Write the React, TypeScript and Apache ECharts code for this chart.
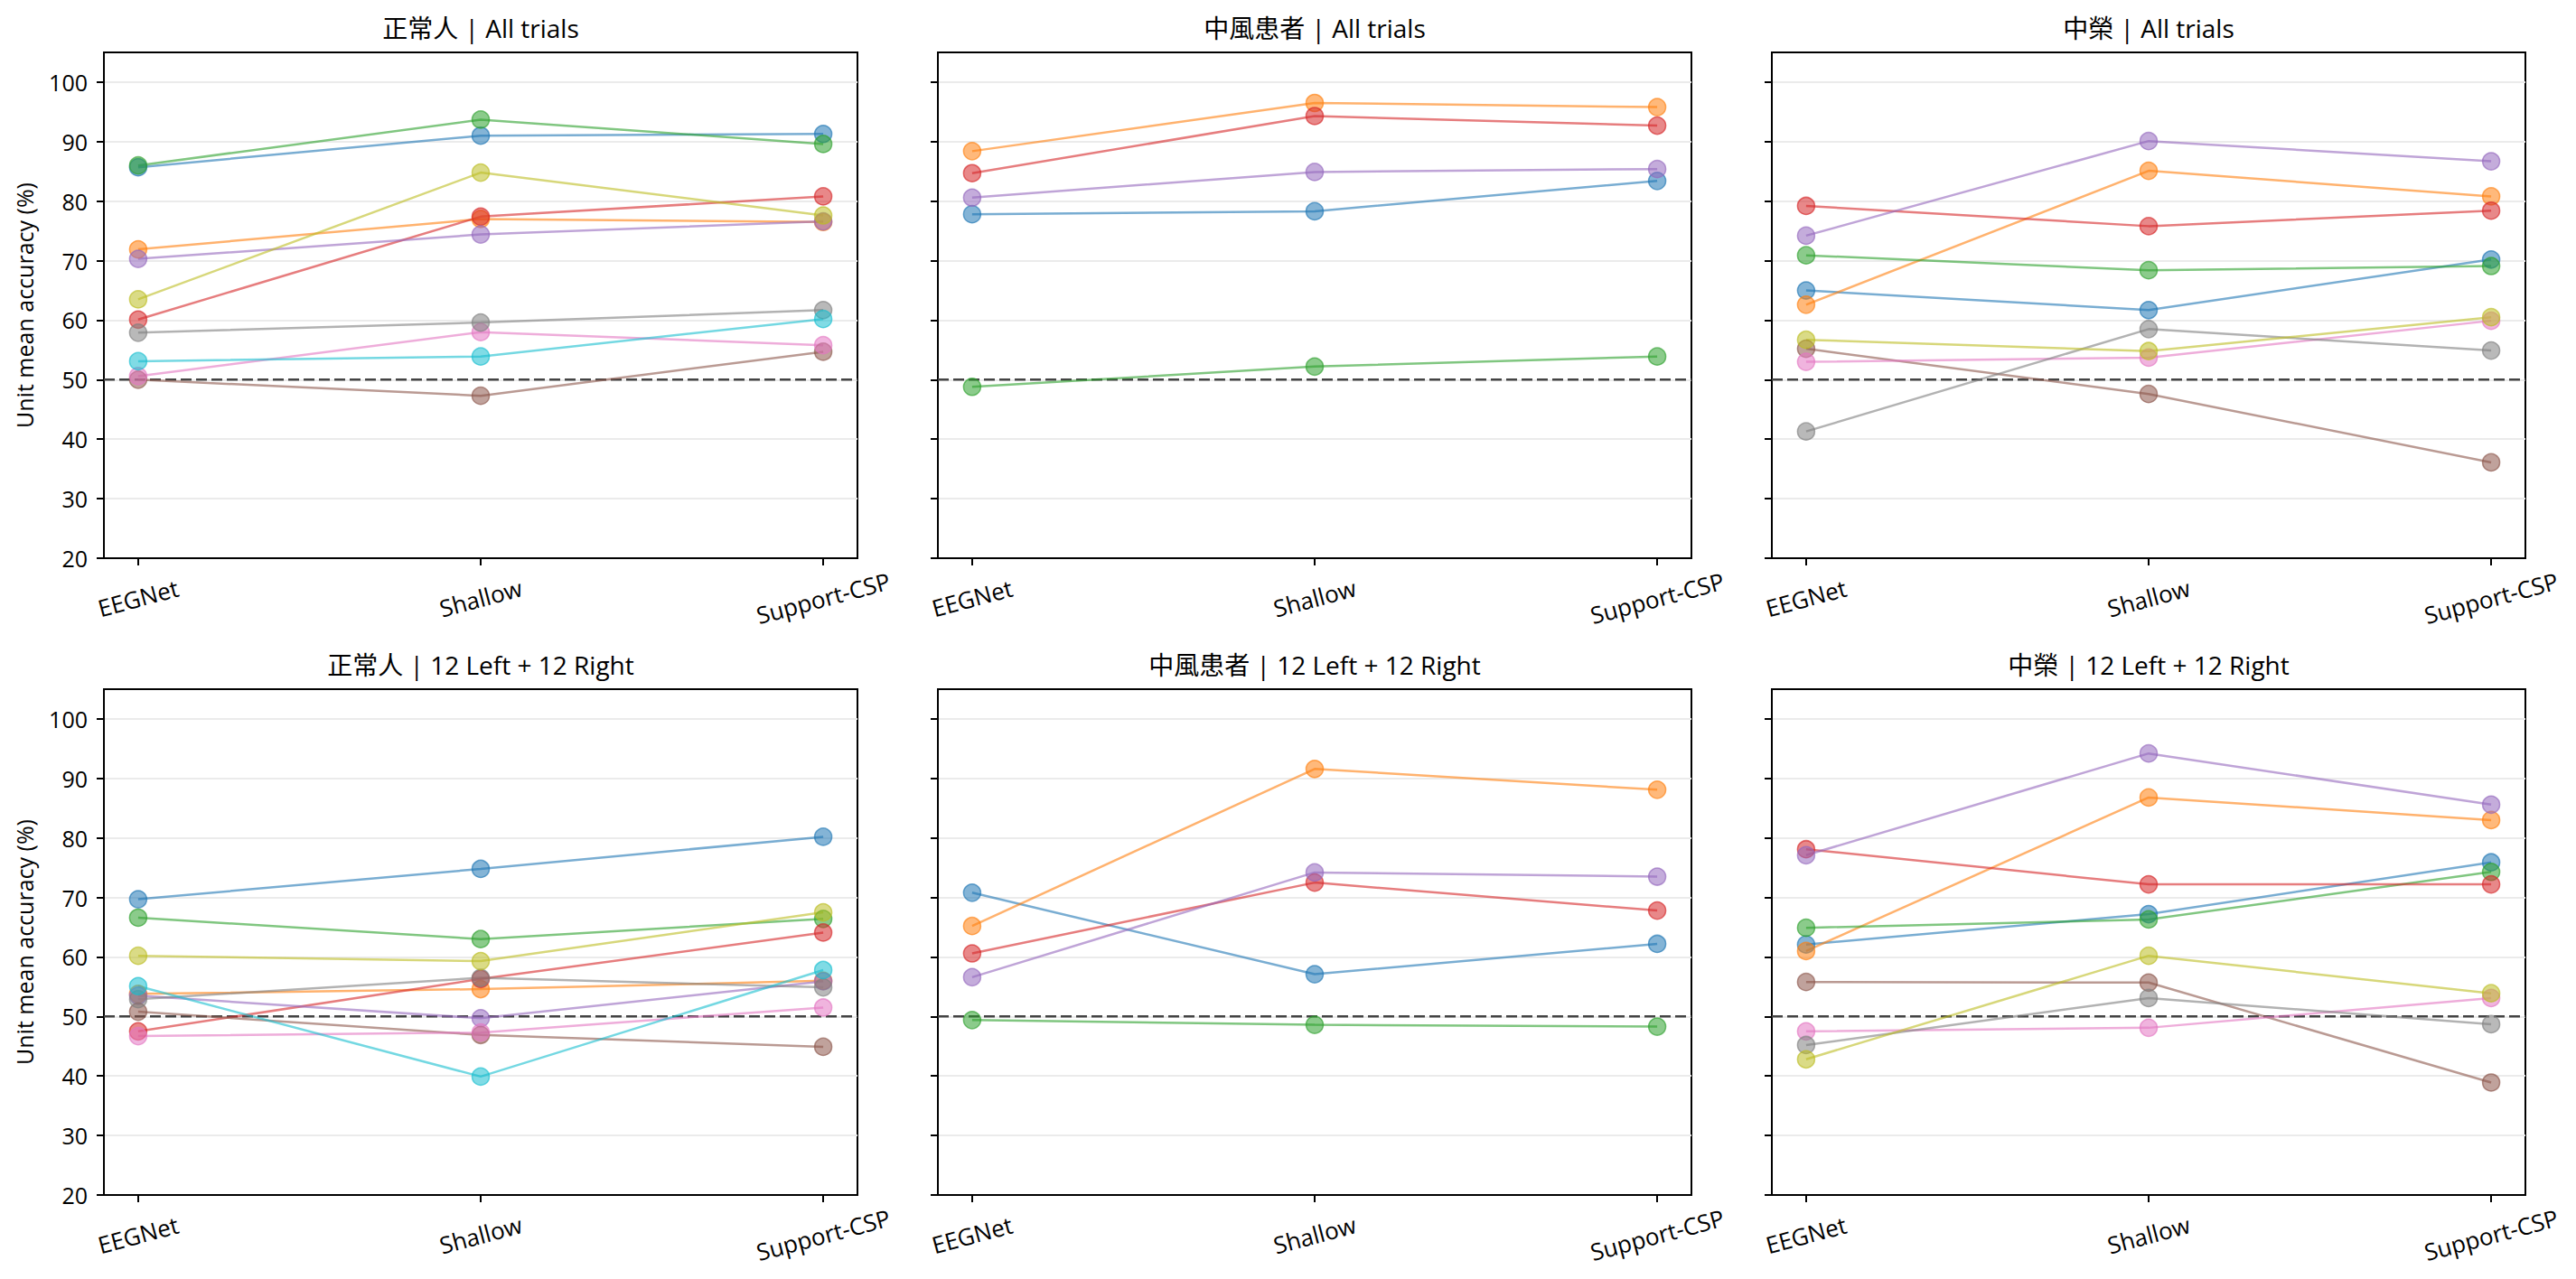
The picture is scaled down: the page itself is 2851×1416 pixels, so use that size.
import React, { useEffect, useRef } from 'react';
import * as echarts from 'echarts';

// ---- data ----------------------------------------------------------------
const MODELS = ['EEGNet', 'Shallow', 'Support-CSP'];
const GROUPS = ['正常人', '中風患者', '中榮'];
const CONDITIONS = ['All trials', '12 Left + 12 Right'];
const Y_TICKS = [20, 30, 40, 50, 60, 70, 80, 90, 100];
const CHANCE_LEVEL = 50;

// Unit mean accuracy (%) per subject, ordered [EEGNet, Shallow, Support-CSP]
const healthyAll = [
  [85.7, 91.0, 91.3],
  [71.9, 77.0, 76.5],
  [86.0, 93.7, 89.6],
  [60.1, 77.4, 80.8],
  [70.3, 74.4, 76.6],
  [50.0, 47.3, 54.7],
  [50.6, 58.0, 55.8],
  [57.9, 59.6, 61.7],
  [63.5, 84.8, 77.6],
  [53.1, 53.9, 60.2],
];
const strokeAll = [
  [77.8, 78.3, 83.4],
  [88.4, 96.5, 95.8],
  [48.8, 52.2, 53.9],
  [84.7, 94.3, 92.7],
  [80.6, 84.9, 85.4],
];
const vghAll = [
  [65.0, 61.7, 70.2],
  [62.6, 85.1, 80.8],
  [70.9, 68.4, 69.1],
  [79.2, 75.8, 78.4],
  [74.2, 90.1, 86.7],
  [55.2, 47.6, 36.1],
  [53.0, 53.7, 59.9],
  [41.3, 58.5, 54.9],
  [56.7, 54.8, 60.5],
];
const healthyLR = [
  [69.7, 74.8, 80.2],
  [53.8, 54.6, 56.0],
  [66.6, 63.0, 66.4],
  [47.5, 56.3, 64.1],
  [53.5, 49.7, 55.9],
  [50.8, 46.9, 44.9],
  [46.7, 47.3, 51.5],
  [52.9, 56.5, 54.9],
  [60.2, 59.3, 67.5],
  [55.1, 39.9, 57.8],
];
const strokeLR = [
  [70.8, 57.1, 62.2],
  [65.2, 91.6, 88.1],
  [49.4, 48.6, 48.3],
  [60.6, 72.5, 67.8],
  [56.6, 74.2, 73.5],
];
const vghLR = [
  [62.1, 67.2, 75.9],
  [61.0, 86.8, 83.0],
  [64.9, 66.3, 74.3],
  [78.1, 72.2, 72.2],
  [77.1, 94.2, 85.6],
  [55.8, 55.7, 38.9],
  [47.5, 48.1, 53.1],
  [45.2, 53.1, 48.7],
  [42.8, 60.2, 53.9],
];

// panels in row-major order: [condition][group]
const PANEL_DATA = [
  [healthyAll, strokeAll, vghAll],
  [healthyLR, strokeLR, vghLR],
];

// ---- styling -------------------------------------------------------------
const TAB10 = [
  '#1f77b4', '#ff7f0e', '#2ca02c', '#d62728', '#9467bd',
  '#8c564b', '#e377c2', '#7f7f7f', '#bcbd22', '#17becf',
];
const FONT = "'Open Sans', 'Noto Sans CJK TC', sans-serif";
const GRID_LEFTS = [115, 1038, 1961];
const GRID_TOPS = [58, 763];
const GRID_W = 834;
const GRID_H = 560;
const X_MIN = -0.1;
const X_MAX = 2.1;

function rgba(hex: string, a: number) {
  const n = parseInt(hex.slice(1), 16);
  return `rgba(${(n >> 16) & 255},${(n >> 8) & 255},${n & 255},${a})`;
}

function buildOption() {
  const grid: any[] = [];
  const xAxis: any[] = [];
  const yAxis: any[] = [];
  const title: any[] = [];
  const series: any[] = [];

  PANEL_DATA.forEach((row, r) => {
    row.forEach((subjects, c) => {
      const idx = grid.length;
      grid.push({
        left: GRID_LEFTS[c],
        top: GRID_TOPS[r],
        width: GRID_W,
        height: GRID_H,
        show: true,
        borderColor: '#000',
        borderWidth: 2,
        backgroundColor: 'transparent',
        containLabel: false,
        outerBoundsMode: 'none',
      });
      title.push({
        text: `${GROUPS[c]} | ${CONDITIONS[r]}`,
        left: GRID_LEFTS[c] + GRID_W / 2,
        top: GRID_TOPS[r] - 41,
        textAlign: 'center',
        padding: 0,
        textStyle: { fontSize: 28, fontWeight: 'normal', color: '#000', fontFamily: FONT },
      });
      xAxis.push({
        gridIndex: idx,
        type: 'value',
        min: X_MIN,
        max: X_MAX,
        axisLine: { show: true, onZero: false, lineStyle: { color: '#000', width: 2 } },
        axisTick: {
          show: true,
          customValues: [0, 1, 2],
          length: 8,
          lineStyle: { color: '#000', width: 2 },
        },
        axisLabel: {
          show: true,
          customValues: [0, 1, 2],
          formatter: (v: number) => MODELS[Math.round(v)],
          rotate: 15,
          align: 'center',
          verticalAlign: 'middle',
          margin: 44,
          fontSize: 26,
          color: '#000',
          fontFamily: FONT,
          hideOverlap: false,
        },
        splitLine: { show: false },
      });
      yAxis.push({
        gridIndex: idx,
        type: 'value',
        min: 20,
        max: 105,
        interval: 10,
        name: c === 0 ? 'Unit mean accuracy (%)' : '',
        nameLocation: 'middle',
        nameGap: 76,
        nameTextStyle: { fontSize: 25, color: '#000', fontFamily: FONT },
        axisLine: { show: true, onZero: false, lineStyle: { color: '#000', width: 2 } },
        axisTick: {
          show: true,
          customValues: Y_TICKS,
          length: 8,
          lineStyle: { color: '#000', width: 2 },
        },
        axisLabel: {
          show: c === 0,
          customValues: Y_TICKS,
          margin: 18,
          fontSize: 25,
          color: '#000',
          fontFamily: FONT,
        },
        splitLine: { show: true, lineStyle: { color: '#ebebeb', width: 2 } },
      });

      // chance level reference
      series.push({
        type: 'line',
        xAxisIndex: idx,
        yAxisIndex: idx,
        data: [[X_MIN, CHANCE_LEVEL], [X_MAX, CHANCE_LEVEL]],
        symbol: 'none',
        silent: true,
        z: 1,
        lineStyle: { color: '#444', width: 2.5, type: [12, 5] },
      });

      subjects.forEach((vals, s) => {
        const col = TAB10[s];
        series.push({
          type: 'line',
          xAxisIndex: idx,
          yAxisIndex: idx,
          data: vals.map((v, k) => [k, v]),
          symbol: 'circle',
          symbolSize: 19,
          silent: true,
          z: 2,
          lineStyle: { color: rgba(col, 0.6), width: 2.5 },
          itemStyle: { color: rgba(col, 0.55), borderColor: rgba(col, 0.65), borderWidth: 1.5 },
          emphasis: { disabled: true },
        });
      });
    });
  });

  return {
    animation: false,
    backgroundColor: '#fff',
    textStyle: { fontFamily: FONT },
    title,
    grid,
    xAxis,
    yAxis,
    series,
  };
}

export default function App() {
  const ref = useRef<HTMLDivElement>(null);
  useEffect(() => {
    if (!ref.current) return;
    const chart = echarts.init(ref.current, undefined, { renderer: 'svg' });
    chart.setOption(buildOption() as any);
    return () => chart.dispose();
  }, []);
  return (
    <div
      ref={ref}
      style={{ position: 'fixed', left: 0, top: 0, width: 2851, height: 1416, background: '#fff' }}
    />
  );
}
